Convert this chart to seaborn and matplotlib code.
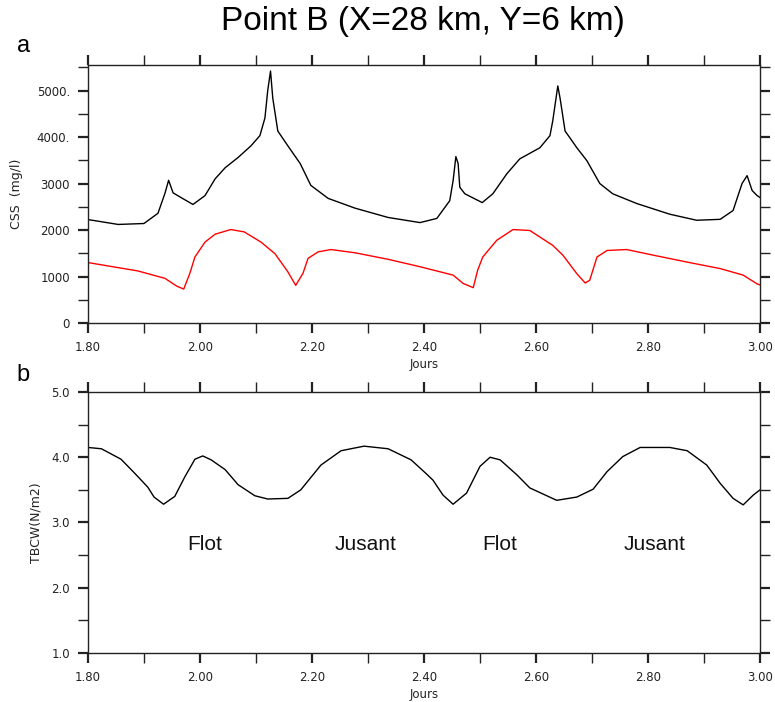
import matplotlib
matplotlib.use("Agg")
import matplotlib.pyplot as plt
from matplotlib.ticker import MultipleLocator, FixedLocator, FixedFormatter
import seaborn as sns
import pandas as pd

# panel a : CSS (mg/l), black curve
days_black = [1.800, 1.854, 1.900, 1.925, 1.9375, 1.944, 1.952, 1.966, 1.9875, 2.009,
              2.027, 2.045, 2.068, 2.091, 2.107, 2.116, 2.121, 2.126, 2.130, 2.139,
              2.157, 2.179, 2.198, 2.229, 2.277, 2.336, 2.393, 2.423, 2.446, 2.452,
              2.457, 2.461, 2.464, 2.473, 2.504, 2.523, 2.548, 2.571, 2.607, 2.625,
              2.630, 2.639, 2.643, 2.652, 2.673, 2.691, 2.714, 2.737, 2.780, 2.839,
              2.887, 2.929, 2.952, 2.968, 2.977, 2.986, 2.995, 3.000]
css_black = [2225, 2120, 2140, 2360, 2790, 3070, 2800, 2700, 2550, 2740,
             3100, 3340, 3560, 3810, 4030, 4410, 5000, 5420, 4840, 4130,
             3810, 3430, 2960, 2680, 2470, 2270, 2160, 2250, 2630, 3060,
             3580, 3430, 2920, 2780, 2590, 2780, 3210, 3530, 3770, 4030,
             4350, 5100, 4840, 4130, 3770, 3490, 3000, 2780, 2570, 2340,
             2210, 2230, 2420, 3000, 3170, 2850, 2740, 2700]

# panel a : red curve
days_red = [1.800, 1.889, 1.9375, 1.959, 1.971, 1.982, 1.991, 2.009, 2.027, 2.055,
            2.079, 2.109, 2.134, 2.157, 2.171, 2.184, 2.193, 2.211, 2.234, 2.277,
            2.336, 2.393, 2.452, 2.470, 2.488, 2.496, 2.505, 2.530, 2.559, 2.589,
            2.630, 2.648, 2.673, 2.688, 2.696, 2.709, 2.727, 2.762, 2.809, 2.870,
            2.929, 2.970, 2.995, 3.000]
css_red = [1300, 1120, 960, 790, 730, 1070, 1420, 1740, 1910, 2010,
           1960, 1740, 1490, 1100, 810, 1070, 1390, 1530, 1580, 1510,
           1370, 1210, 1030, 850, 760, 1140, 1420, 1780, 2010, 1990,
           1670, 1460, 1060, 860, 920, 1420, 1560, 1580, 1460, 1310,
           1170, 1030, 840, 820]

# panel b : TBCW (N/m2)
days_tbcw = [1.800, 1.824, 1.859, 1.884, 1.907, 1.918, 1.935, 1.955, 1.973, 1.991,
             2.005, 2.020, 2.045, 2.068, 2.098, 2.121, 2.157, 2.180, 2.216, 2.252,
             2.293, 2.336, 2.377, 2.400, 2.416, 2.434, 2.452, 2.476, 2.500, 2.518,
             2.536, 2.566, 2.589, 2.637, 2.673, 2.702, 2.727, 2.755, 2.786, 2.839,
             2.870, 2.905, 2.929, 2.952, 2.970, 2.988, 3.000]
tbcw = [4.15, 4.13, 3.97, 3.75, 3.54, 3.39, 3.28, 3.40, 3.70, 3.97,
        4.02, 3.96, 3.81, 3.58, 3.41, 3.36, 3.37, 3.50, 3.88, 4.10,
        4.17, 4.13, 3.96, 3.78, 3.65, 3.42, 3.28, 3.45, 3.86, 4.00,
        3.96, 3.73, 3.53, 3.34, 3.39, 3.51, 3.78, 4.01, 4.15, 4.15,
        4.10, 3.88, 3.60, 3.37, 3.27, 3.42, 3.50]

phase_labels = ['Flot', 'Jusant', 'Flot', 'Jusant']
phase_x = [2.009, 2.295, 2.536, 2.8125]
phase_y = 2.66

x_ticks = [1.8, 2.0, 2.2, 2.4, 2.6, 2.8, 3.0]
x_ticklabels = ['1.80', '2.00', '2.20', '2.40', '2.60', '2.80', '3.00']
css_ticks = [0, 1000, 2000, 3000, 4000, 5000]
css_ticklabels = ['0', '1000', '2000', '3000', '4000.', '5000.']
tbcw_ticks = [1.0, 2.0, 3.0, 4.0, 5.0]
tbcw_ticklabels = ['1.0', '2.0', '3.0', '4.0', '5.0']


def style_axis(ax):
    for side in ['top', 'right', 'bottom', 'left']:
        ax.spines[side].set_visible(True)
        ax.spines[side].set_color('#222222')
        ax.spines[side].set_linewidth(1.0)
    ax.xaxis.set_minor_locator(MultipleLocator(0.1))
    ax.tick_params(which='both', direction='out', length=7, width=1.0,
                   bottom=True, left=True, top=True, right=True,
                   labelbottom=True, labelleft=True,
                   labeltop=False, labelright=False,
                   colors='#222222', labelsize=8.5)
    ax.tick_params(which='major', width=1.6)
    ax.tick_params(axis='x', which='major', pad=6)
    ax.tick_params(axis='y', which='major', pad=6)
    ax.set_xlim(1.8, 3.0)
    ax.set_xticks(x_ticks)
    ax.set_xticklabels(x_ticklabels)
    ax.set_xlabel('Jours', fontsize=8.5, color='#222222', labelpad=3)
    ax.grid(False)


def main() -> None:
    sns.set_theme(style='white')
    plt.rcParams['font.family'] = ['DejaVu Sans']

    df_black = pd.DataFrame({'day': days_black, 'css': css_black})
    df_red = pd.DataFrame({'day': days_red, 'css': css_red})
    df_tbcw = pd.DataFrame({'day': days_tbcw, 'tbcw': tbcw})

    f = plt.figure(figsize=(7.75, 7.02), dpi=100)
    ax1 = f.add_axes([0.1135, 0.5399, 0.8671, 0.3675])
    ax2 = f.add_axes([0.1135, 0.0698, 0.8671, 0.3718])

    sns.lineplot(data=df_black, x='day', y='css', color='black', linewidth=1.0, ax=ax1)
    sns.lineplot(data=df_red, x='day', y='css', color='red', linewidth=1.0, ax=ax1)
    style_axis(ax1)
    ax1.set_ylim(0, 5550)
    ax1.yaxis.set_major_locator(FixedLocator(css_ticks))
    ax1.yaxis.set_major_formatter(FixedFormatter(css_ticklabels))
    ax1.yaxis.set_minor_locator(MultipleLocator(500))
    ax1.set_ylabel('CSS  (mg/l)', fontsize=9, color='#222222', labelpad=10)

    sns.lineplot(data=df_tbcw, x='day', y='tbcw', color='black', linewidth=1.0, ax=ax2)
    style_axis(ax2)
    ax2.set_ylim(1.0, 5.0)
    ax2.yaxis.set_major_locator(FixedLocator(tbcw_ticks))
    ax2.yaxis.set_major_formatter(FixedFormatter(tbcw_ticklabels))
    ax2.yaxis.set_minor_locator(MultipleLocator(0.5))
    ax2.set_ylabel('TBCW(N/m2)', fontsize=9, color='#222222', labelpad=6)

    for lab, xx in zip(phase_labels, phase_x):
        ax2.text(xx, phase_y, lab, ha='center', va='center', fontsize=15,
                 family='Liberation Sans', color='#111111')

    f.text(0.546, 0.969, 'Point B (X=28 km, Y=6 km)', ha='center', va='center',
           fontsize=24, family='Liberation Sans', color='black')
    f.text(0.030, 0.935, 'a', ha='center', va='center', fontsize=17,
           family='Liberation Sans', color='black')
    f.text(0.030, 0.466, 'b', ha='center', va='center', fontsize=17,
           family='Liberation Sans', color='black')

    f.savefig('out.png', dpi=100, facecolor='white')


if __name__ == '__main__':
    main()
